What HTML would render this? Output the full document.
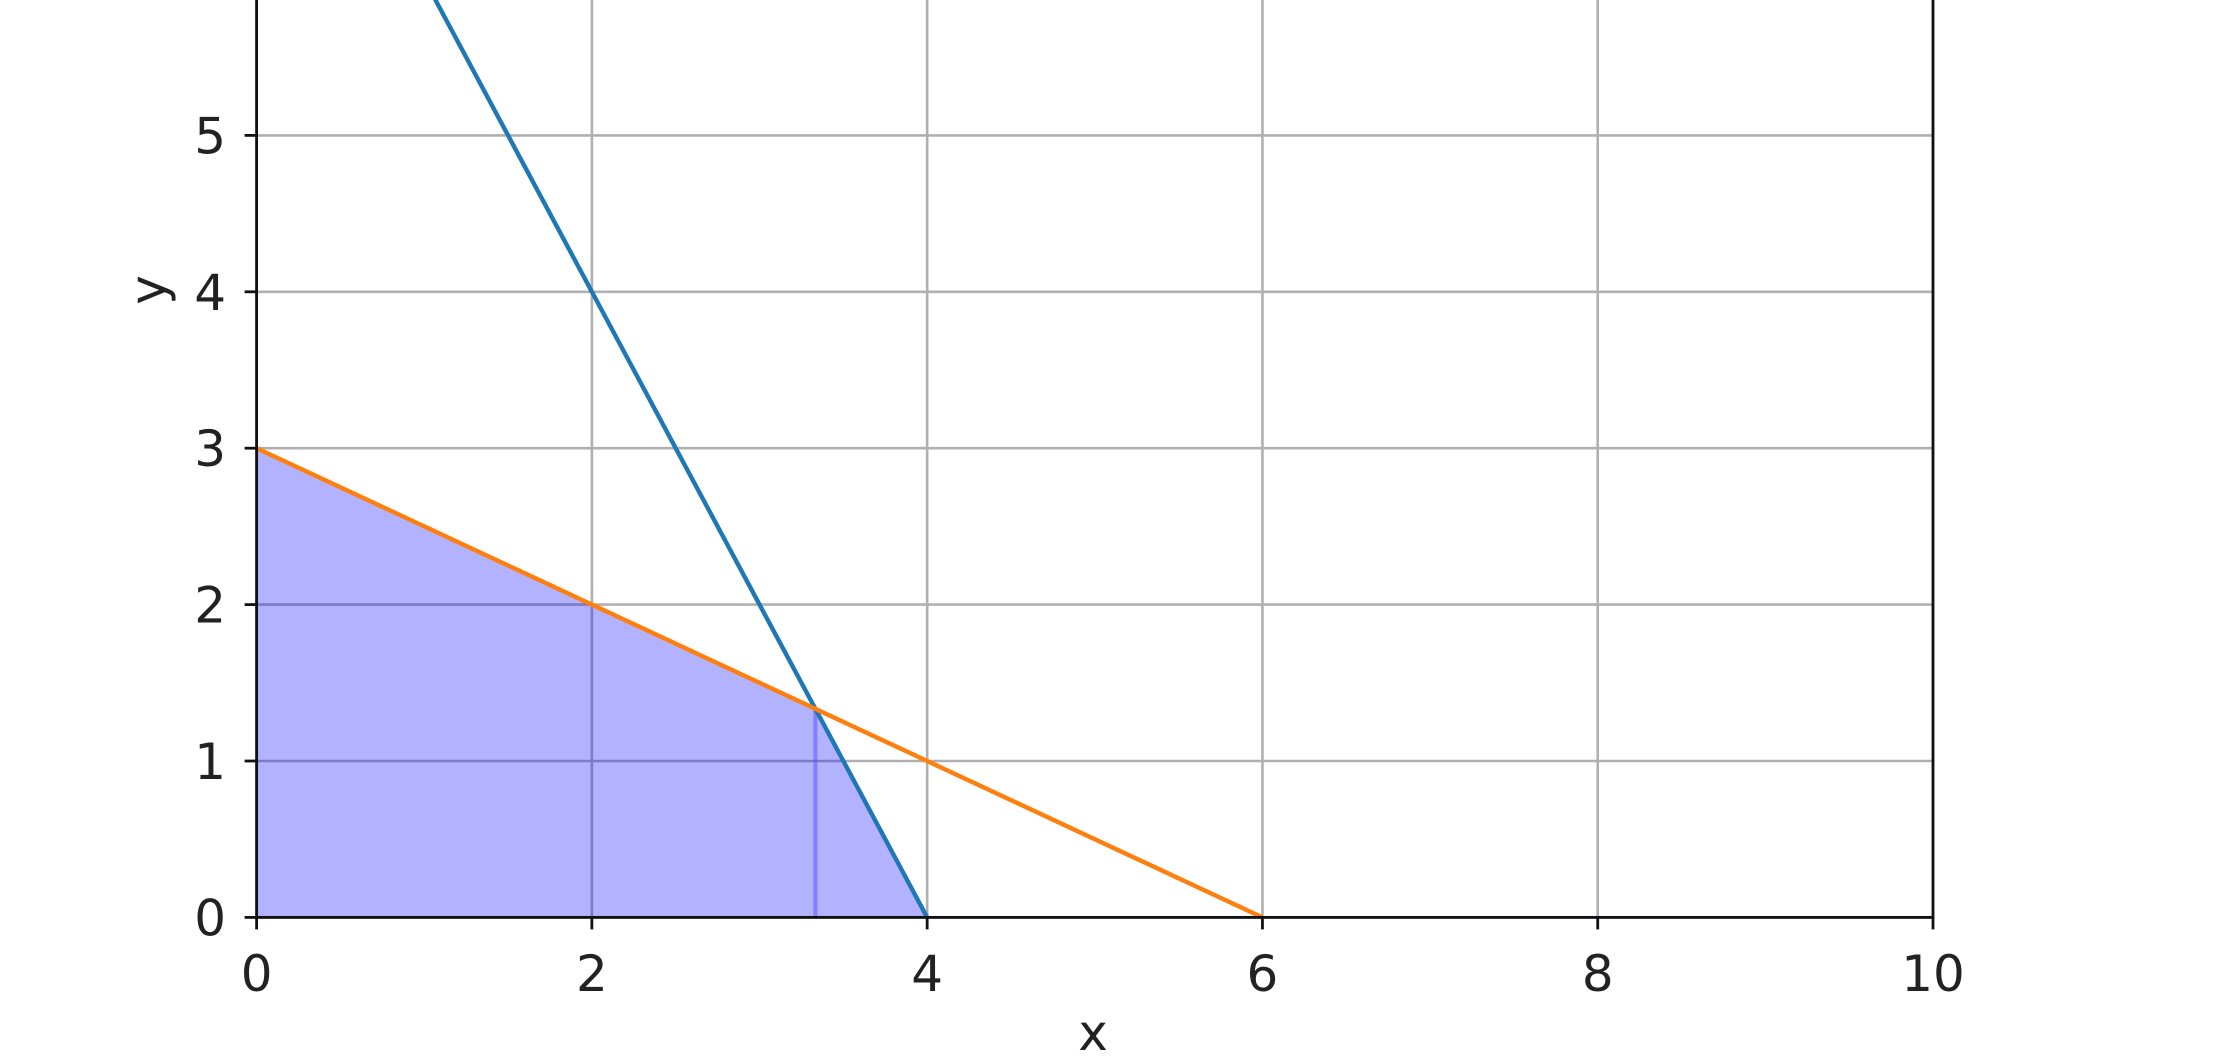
<!DOCTYPE html>
<html><head><meta charset="utf-8">
<style>
html,body{margin:0;padding:0;background:#fff;overflow:hidden;width:2235px;height:1063px;}
svg{display:block;}
text{font-family:"DejaVu Sans","Liberation Sans",sans-serif;fill:#222;}
</style></head>
<body>
<svg id="chart" width="2235" height="1063" viewBox="0 0 2235 1063"></svg>
<script>
const xTicks=[0,2,4,6,8,10];
const yTicks=[0,1,2,3,4,5];
const blueX=[0,4,10];
const blueY=[8,0,0];
const orangeX=[0,6];
const orangeY=[3,0];
const fillX=[0,10/3,4,10];
const fillY=[3,4/3,0,0];
const cornerX=[10/3];
const cornerY=[4/3];

const L=256.6,R=1933,Y0=917.4,UY=156.4;
const sx=v=>L+(v-0)*(R-L)/10;
const sy=v=>Y0-v*UY;
const NS='http://www.w3.org/2000/svg';
const svg=document.getElementById('chart');
function mk(t,a,p){const e=document.createElementNS(NS,t);for(const k in a)e.setAttribute(k,a[k]);(p||svg).appendChild(e);return e;}

const TOP=-20;
const clip=mk('clipPath',{id:'cp'});
mk('rect',{x:L,y:TOP,width:R-L,height:Y0-TOP+3},clip);

const grid=mk('g',{});


xTicks.forEach(v=>{const l=mk('line',{x1:sx(v),x2:sx(v),y1:TOP,y2:Y0,stroke:'#b0b0b0','stroke-width':2.6},grid);

});
yTicks.forEach(v=>{const l=mk('line',{x1:L,x2:R,y1:sy(v),y2:sy(v),stroke:'#b0b0b0','stroke-width':2.6},grid);

});

let d='M'+sx(fillX[0])+','+sy(0);
fillX.forEach((x,i)=>{d+='L'+sx(x)+','+sy(fillY[i]);});
d+='L'+sx(fillX[fillX.length-1])+','+sy(0)+'Z';
const fp=mk('path',{d:d,fill:'rgba(0,0,255,0.3)',stroke:'rgba(0,0,255,0.3)','stroke-width':3,'clip-path':'url(#cp)'});


cornerX.forEach((x,i)=>{const l=mk('line',{x1:sx(x),x2:sx(x),y1:sy(cornerY[i]),y2:sy(0),stroke:'rgba(80,80,255,0.5)','stroke-width':4});

});

function poly(xs,ys,color,name){const p=mk('polyline',{points:xs.map((x,i)=>sx(x)+','+sy(ys[i])).join(' '),fill:'none',stroke:color,'stroke-width':4.4,'clip-path':'url(#cp)'});

}
poly(blueX.slice(0,2),blueY.slice(0,2),'#1f77b4','constraint-line-blue');
poly(orangeX,orangeY,'#ff7f0e','constraint-line-orange');

const sp=mk('path',{d:`M${L},${TOP}L${L},${Y0}L${R},${Y0}L${R},${TOP}`,fill:'none',stroke:'#111','stroke-width':2.8});



xTicks.forEach(v=>{mk('line',{x1:sx(v),x2:sx(v),y1:Y0,y2:Y0+12,stroke:'#111','stroke-width':2.8});
const t=mk('text',{x:sx(v),y:991,'font-size':50,'text-anchor':'middle'});t.textContent=v;

});
yTicks.forEach(v=>{mk('line',{x1:L-12,x2:L,y1:sy(v),y2:sy(v),stroke:'#111','stroke-width':2.8});
const t=mk('text',{x:226,y:sy(v)+18,'font-size':50,'text-anchor':'end'});t.textContent=v;

});

const xl=mk('text',{x:1093,y:1050,'font-size':50,'text-anchor':'middle'});xl.textContent='x';


const yl=mk('text',{x:0,y:0,'font-size':50,'text-anchor':'middle',transform:'translate(165,290) rotate(-90)'});yl.textContent='y';


</script>
</body></html>
